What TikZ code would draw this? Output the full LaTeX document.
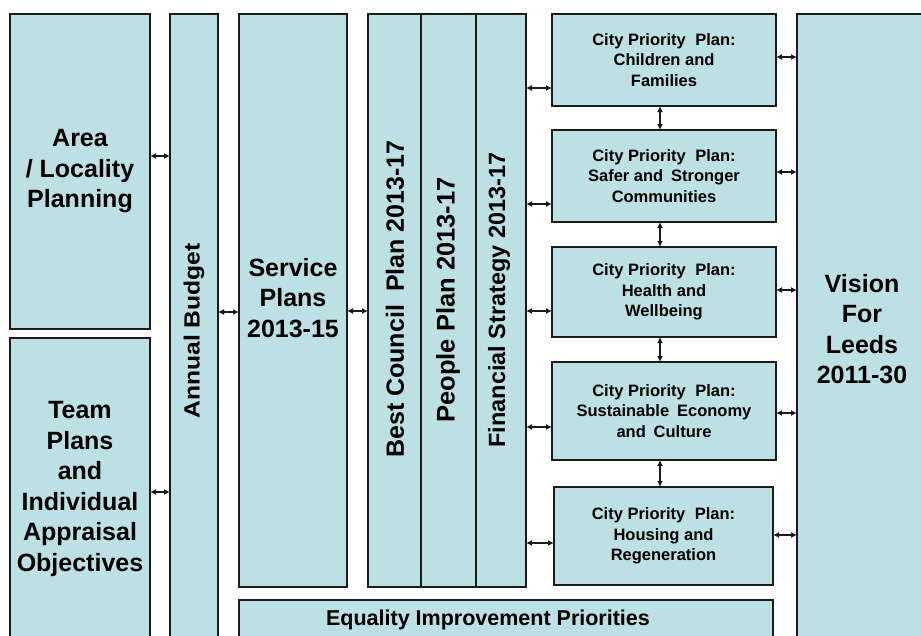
\documentclass[tikz,border=0pt]{standalone}
\usepackage{fontspec}
\setmainfont{Liberation Sans}
\usetikzlibrary{arrows.meta}
\definecolor{boxfill}{RGB}{188,224,227}
\definecolor{edge}{RGB}{28,28,28}
\begin{document}
\begin{tikzpicture}[x=1pt,y=-1pt,
  box/.style={draw=edge, line width=1.4pt, fill=boxfill, inner sep=0pt, outer sep=0pt, anchor=north west},
  big/.style={align=center, inner sep=0pt, font=\bfseries\fontsize{25}{30.5}\selectfont},
  small/.style={align=center, inner sep=0pt, font=\bfseries\fontsize{16.5}{20.5}\selectfont},
  vtxt/.style={rotate=90, inner sep=0pt, font=\bfseries\fontsize{25}{30}\selectfont},
  dbl/.style={draw=edge, line width=1.4pt, arrows={Latex[length=6pt,width=6pt]-Latex[length=6pt,width=6pt]}}
]
\useasboundingbox (0,0) rectangle (921,635);
\begin{scope}
\clip (0,0) rectangle (921,635);
% left column
\node[box, minimum width=140pt, minimum height=315pt] (area) at (10,14) {};
\node[big] (areatxt) at (area.center) {Area\\/ Locality\\Planning};
\node[box, minimum width=140pt, minimum height=330pt] (team) at (10,338) {};
\node[big] (teamtxt) at (80,489) {Team\\Plans\\and\\Individual\\Appraisal\\Objectives};
% budget
\node[box, minimum width=48pt, minimum height=660pt] (budget) at (170,14) {};
\node[vtxt, font=\bfseries\fontsize{22}{26}\selectfont] (budgettxt) at (194,331) {\scalebox{1.12}[1]{Annual Budget}};
% service
\node[box, minimum width=108pt, minimum height=573pt] (service) at (239,14) {};
\node[big] (servicetxt) at (293,298) {Service\\Plans\\2013-15};
% best council block
\node[box, minimum width=53pt, minimum height=573pt] (best) at (368,14) {};
\node[box, minimum width=55pt, minimum height=573pt] (people) at (421,14) {};
\node[box, minimum width=50pt, minimum height=573pt] (fin) at (476,14) {};
\node[vtxt] (besttxt) at (395,299) {Best Council\hspace{0.25em} Plan 2013-17};
\node[vtxt, font=\bfseries\fontsize{25.5}{30}\selectfont] (peopletxt) at (448,300) {People Plan 2013-17};
\node[vtxt, font=\bfseries\fontsize{23.5}{28}\selectfont] (fintxt) at (499,300) {Financial Strategy 2013-17};
% equality
\node[box, minimum width=534pt, minimum height=60pt] (equal) at (239,600) {};
\node[big, font=\bfseries\fontsize{21.5}{26}\selectfont] (equaltxt) at (488,620) {Equality Improvement Priorities};
% city priority plans
\node[box, minimum width=224pt, minimum height=92pt, small] (cpa) at (552,14) {City Priority\hspace{0.3em} Plan:\\Children and\\Families};
\node[box, minimum width=224pt, minimum height=92pt, small] (cpb) at (552,130) {City Priority\hspace{0.3em} Plan:\\Safer and\hspace{0.2em} Stronger\\Communities};
\node[box, minimum width=224pt, minimum height=90pt, small] (cpc) at (552,247) {City Priority\hspace{0.3em} Plan:\\Health and\\Wellbeing};
\node[box, minimum width=224pt, minimum height=98pt, small] (cpd) at (552,362) {City Priority\hspace{0.3em} Plan:\\Sustainable\hspace{0.2em} Economy\\and\hspace{0.2em} Culture};
\node[box, minimum width=219pt, minimum height=98pt, small] (cpe) at (554,487) {City Priority\hspace{0.3em} Plan:\\Housing and\\Regeneration};
% vision
\node[box, minimum width=150pt, minimum height=700pt] (vision) at (797,14) {};
\node[big] (visiontxt) at (862,329) {Vision\\For\\Leeds\\2011-30};
\end{scope}
% connectors
\draw[dbl] (area.east |- 0,156) -- (budget.west |- 0,156);
\draw[dbl] (team.east |- 0,492) -- (budget.west |- 0,492);
\draw[dbl] (budget.east |- 0,312) -- (service.west |- 0,312);
\draw[dbl] (service.east |- 0,311) -- (best.west |- 0,311);
\draw[dbl] (fin.east |- 0,88) -- (cpa.west |- 0,88);
\draw[dbl] (fin.east |- 0,204) -- (cpb.west |- 0,204);
\draw[dbl] (fin.east |- 0,311) -- (cpc.west |- 0,311);
\draw[dbl] (fin.east |- 0,427) -- (cpd.west |- 0,427);
\draw[dbl] (fin.east |- 0,543) -- (cpe.west |- 0,543);
\draw[dbl] (cpa.east |- 0,57) -- (vision.west |- 0,57);
\draw[dbl] (cpb.east |- 0,172) -- (vision.west |- 0,172);
\draw[dbl] (cpc.east |- 0,290) -- (vision.west |- 0,290);
\draw[dbl] (cpd.east |- 0,413) -- (vision.west |- 0,413);
\draw[dbl] (cpe.east |- 0,535) -- (vision.west |- 0,535);
\draw[dbl] (cpa.south -| 660,0) -- (cpb.north -| 660,0);
\draw[dbl] (cpb.south -| 660,0) -- (cpc.north -| 660,0);
\draw[dbl] (cpc.south -| 660,0) -- (cpd.north -| 660,0);
\draw[dbl] (cpd.south -| 660,0) -- (cpe.north -| 660,0);
\end{tikzpicture}
\end{document}
